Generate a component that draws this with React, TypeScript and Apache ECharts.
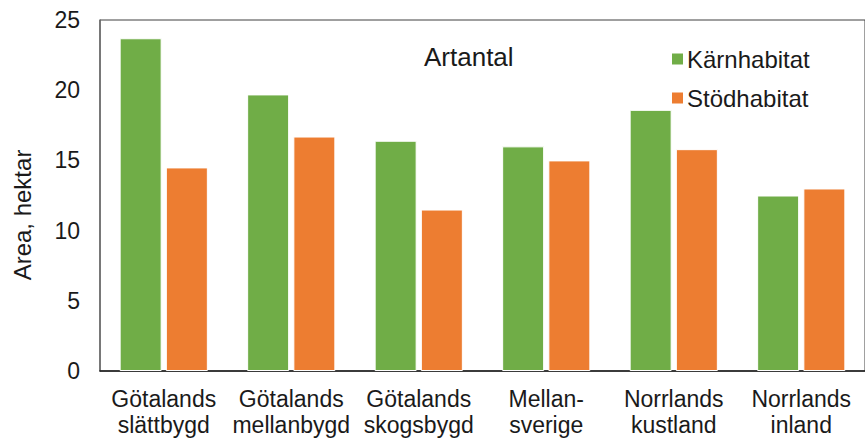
import React, { useEffect, useRef } from "react";
import * as echarts from "echarts";

// Regions (two-line category labels)
const categories = [
  "Götalands\nslättbygd",
  "Götalands\nmellanbygd",
  "Götalands\nskogsbygd",
  "Mellan-\nsverige",
  "Norrlands\nkustland",
  "Norrlands\ninland",
];

const seriesNames = ["Kärnhabitat", "Stödhabitat"];
const karnhabitat = [23.7, 19.7, 16.4, 16.0, 18.6, 12.5];
const stodhabitat = [14.5, 16.7, 11.5, 15.0, 15.8, 13.0];

const yTicks = { min: 0, max: 25, interval: 5 };
const chartTitle = "Artantal";
const yAxisName = "Area, hektar";

const GREEN = "#70AD47";
const ORANGE = "#ED7D31";
const FONT = "'Liberation Sans', Arial, sans-serif";
const TEXT = "#1a1a1a";

export default function App() {
  const ref = useRef<HTMLDivElement>(null);

  useEffect(() => {
    if (!ref.current) return;
    const chart = echarts.init(ref.current, undefined, { renderer: "svg" });
    chart.setOption({
      animation: false,
      backgroundColor: "#ffffff",
      textStyle: { fontFamily: FONT, color: TEXT },
      title: {
        text: chartTitle,
        left: 419,
        top: 39,
        textStyle: { fontFamily: FONT, fontSize: 26, fontWeight: "normal", color: TEXT },
      },
      legend: {
        data: seriesNames,
        orient: "vertical",
        left: 665,
        top: 42,
        itemWidth: 13,
        itemHeight: 13,
        itemGap: 15,
        icon: "rect",
        textStyle: { fontFamily: FONT, fontSize: 24, color: TEXT, padding: [0, 0, 0, -2] },
      },
      grid: {
        left: 100,
        top: 20,
        width: 769,
        height: 351,
        show: true,
        borderColor: "#404040",
        borderWidth: 1,
        containLabel: false,
      },
      xAxis: {
        type: "category",
        data: categories,
        axisLine: { show: true, lineStyle: { color: "#1a1a1a", width: 1.5 } },
        axisTick: { show: false },
        axisLabel: {
          interval: 0,
          margin: 15,
          fontFamily: FONT,
          fontSize: 23,
          lineHeight: 26,
          color: TEXT,
        },
      },
      yAxis: {
        type: "value",
        min: yTicks.min,
        max: yTicks.max,
        interval: yTicks.interval,
        axisLine: { show: true, lineStyle: { color: "#6b6b6b", width: 1.5 } },
        axisTick: { show: false },
        splitLine: { show: false },
        axisLabel: { margin: 20, fontFamily: FONT, fontSize: 23, color: TEXT },
      },
      graphic: [
        {
          type: "text",
          x: 22,
          y: 215,
          rotation: Math.PI / 2,
          style: {
            text: yAxisName,
            font: `24px ${FONT}`,
            fill: TEXT,
            align: "center",
            verticalAlign: "middle",
          },
        },
      ],
      series: [
        {
          name: seriesNames[0],
          type: "bar",
          data: karnhabitat,
          barWidth: 42,
          barGap: "10%",
          itemStyle: { color: GREEN, borderColor: "#ffffff", borderWidth: 1 },
        },
        {
          name: seriesNames[1],
          type: "bar",
          data: stodhabitat,
          barWidth: 42,
          barGap: "10%",
          itemStyle: { color: ORANGE, borderColor: "#ffffff", borderWidth: 1 },
        },
      ],
    });
    return () => chart.dispose();
  }, []);

  return (
    <div
      ref={ref}
      style={{ position: "absolute", left: 0, top: 0, width: 865, height: 441 }}
    />
  );
}
